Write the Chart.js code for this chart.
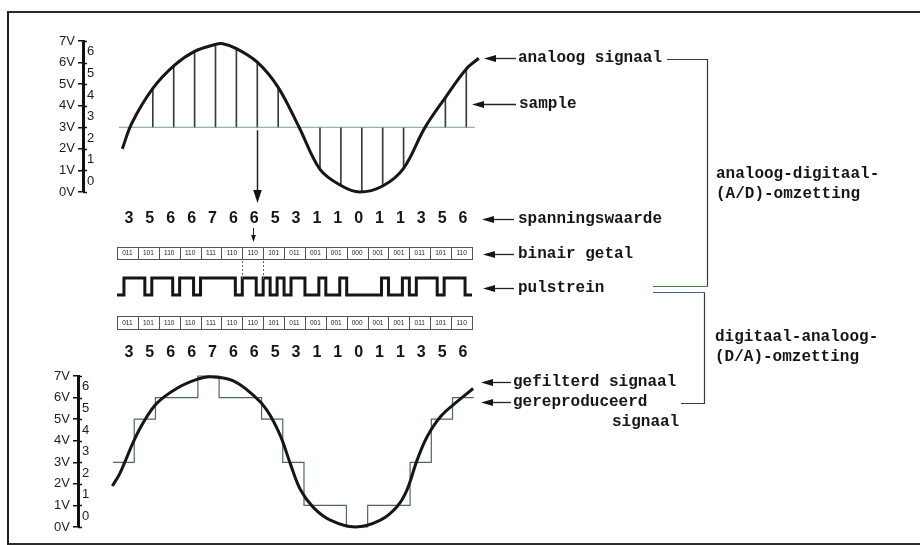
<!DOCTYPE html>
<html><head><meta charset="utf-8">
<script src="https://cdn.jsdelivr.net/npm/chart.js@4.4.1/dist/chart.umd.min.js"></script>
<style>
html,body{margin:0;padding:0;background:#fff;}
#wrap{position:relative;width:920px;height:545px;overflow:hidden;background:#fff;}
#wrap canvas{position:absolute;left:0;top:0;}
#frame{position:absolute;left:7px;top:11px;width:940px;height:530px;border-left:2px solid #1e1e1e;border-top:2px solid #2a2a2a;border-bottom:2px solid #2a2a2a;}
</style></head>
<body><div id="wrap"><div id="frame"></div>
<canvas id="cTop" width="920" height="545"></canvas>
<canvas id="cMid" width="920" height="545"></canvas>
<canvas id="cBot" width="920" height="545"></canvas>
</div>
<script>
// ---------- data ----------
const voltLabels = ['0V','1V','2V','3V','4V','5V','6V','7V'];
const levelLabels = ['0','1','2','3','4','5','6'];
const sampleValues = [3,5,6,6,7,6,6,5,3,1,1,0,1,1,3,5,6];
const binaryCodes = ['011','101','110','110','111','110','110','101','011','001','001','000','001','001','011','101','110'];
const highlightSample = 6;
const baselineLevel = 3;
const baselineSpan = [-0.62, 16.41];
// analog signal (x in sample periods, y in volts)
const analogT = [-0.46, 0, 1, 2, 3, 4, 4.3, 5, 6, 7, 8, 9, 10, 10.9, 12, 13, 14, 15, 16, 16.6];
const analogV = [2.0, 3.2, 4.8, 5.85, 6.52, 6.84, 6.88, 6.65, 6.02, 4.85, 3.0, 1.05, 0.3, 0.0, 0.28, 1.1, 2.95, 4.38, 5.7, 6.2];
// height reached by each sample line (volts)
const sampleTops = [3.0, 4.8, 5.85, 6.52, 6.84, 6.65, 6.02, 4.85, 3.0, 1.05, 0.3, 0.02, 0.28, 1.1, 2.95, 4.38, 5.7];
// filtered (reconstructed) signal, x in sample periods of the staircase
const filteredT = [-0.03, 0.33, 0.96, 1.43, 2.06, 3.0, 3.95, 4.58, 5.67, 6.61, 7.25, 7.88, 8.35, 8.82, 9.45, 10.24, 11.42, 12.6, 13.38, 13.85, 14.33, 14.8, 15.42, 16.2, 16.97];
const filteredV = [1.9, 2.5, 3.95, 4.85, 5.73, 6.42, 6.84, 6.96, 6.77, 6.11, 5.42, 4.25, 2.95, 1.75, 0.9, 0.32, 0.0, 0.32, 0.94, 1.71, 3.1, 4.18, 5.1, 5.8, 6.42];

// ---------- helpers ----------
const SANS = '"Liberation Sans", Arial, Helvetica, sans-serif';
const MONO = '"Liberation Mono", "Courier New", monospace';
const INK = '#161616';

function voltAxis() {
  return {
    type: 'linear', min: 0, max: 7, position: 'left',
    afterFit(s) { s.width = 50; },
    ticks: { stepSize: 1, autoSkip: false, padding: 3, color: '#1c1c1c',
      font: { family: SANS, size: 13 },
      callback: (v) => voltLabels[v] ?? '' },
    grid: { drawOnChartArea: false, drawTicks: true, tickLength: 5, color: '#111', lineWidth: 1.5 },
    border: { display: true, width: 3, color: '#111' }
  };
}
const axisDecor = {
  id: 'axisDecor',
  afterDraw(chart) {
    const { ctx, scales: { y } } = chart;
    const x0 = chart.chartArea.left;
    ctx.save();
    ctx.font = '13px ' + SANS;
    ctx.fillStyle = '#1c1c1c'; ctx.textAlign = 'left'; ctx.textBaseline = 'middle';
    levelLabels.forEach((lab, i) => ctx.fillText(lab, x0 + 4, y.getPixelForValue(i + 0.5)));
    ctx.strokeStyle = '#111'; ctx.lineWidth = 1.5;
    voltLabels.forEach((_, i) => {
      const py = Math.round(y.getPixelForValue(i)) + 0.5;
      ctx.beginPath(); ctx.moveTo(x0, py); ctx.lineTo(x0 + 4, py); ctx.stroke();
    });
    ctx.restore();
  }
};
function arrowLeft(ctx, tipX, tailX, y) {
  ctx.beginPath(); ctx.moveTo(tipX + 8, y); ctx.lineTo(tailX, y); ctx.stroke();
  ctx.beginPath(); ctx.moveTo(tipX, y); ctx.lineTo(tipX + 12, y - 3.4); ctx.lineTo(tipX + 12, y + 3.4); ctx.closePath(); ctx.fill();
}
function arrowDown(ctx, x, y0, tipY, head) {
  ctx.beginPath(); ctx.moveTo(x, y0); ctx.lineTo(x, tipY - head + 2); ctx.stroke();
  ctx.beginPath(); ctx.moveTo(x, tipY); ctx.lineTo(x - head * 0.33, tipY - head); ctx.lineTo(x + head * 0.33, tipY - head); ctx.closePath(); ctx.fill();
}
function common(pad, xmin, xmax) {
  return {
    responsive: false, animation: false, events: [],
    layout: { padding: pad },
    plugins: { legend: { display: false }, tooltip: { enabled: false } },
    elements: { point: { radius: 0 } },
    scales: { x: { type: 'linear', min: xmin, max: xmax, display: false, offset: false } }
  };
}

// ---------- top chart: analog signal with samples ----------
const topOpts = common({ left: 33, top: 41, right: 437, bottom: 353 }, -2.34, 16.8);
topOpts.scales.y = voltAxis();
new Chart(document.getElementById('cTop'), {
  type: 'line',
  data: { datasets: [
    { label: 'analoog signaal', data: analogT.map((t, i) => ({ x: t, y: analogV[i] })),
      borderColor: INK, borderWidth: 3, tension: 0.35, clip: false, order: 0 },
    { label: 'nivo', data: baselineSpan.map(t => ({ x: t, y: baselineLevel })),
      borderColor: '#7d9ba2', borderWidth: 1, clip: false, order: 1 },
    { type: 'bar', label: 'sample', data: sampleTops.map((v, i) => ({ x: i, y: [baselineLevel, v] })),
      backgroundColor: '#3a3a3a', barThickness: 1, order: 2 }
  ] },
  options: topOpts,
  plugins: [axisDecor, {
    id: 'downArrow',
    afterDraw(chart) {
      const { ctx, scales: { x, y } } = chart;
      ctx.save(); ctx.strokeStyle = '#222'; ctx.fillStyle = '#111'; ctx.lineWidth = 1.5;
      const px = Math.round(x.getPixelForValue(highlightSample)) + 0.5;
      arrowDown(ctx, px, y.getPixelForValue(baselineLevel) + 3, 203, 13);
      ctx.restore();
    }
  }]
});

// ---------- middle chart: numbers, binary codes, pulse train ----------
const bits = [];
binaryCodes.forEach((code, k) => code.split('').forEach((b, j) => bits.push({ x: k + j / 3, y: +b })));
bits.push({ x: binaryCodes.length, y: bits[bits.length - 1].y });
const midOpts = common({ left: 117, top: 278, right: 448, bottom: 250 }, 0, binaryCodes.length);
midOpts.scales.y = { type: 'linear', min: 0, max: 1, display: false };
new Chart(document.getElementById('cMid'), {
  type: 'line',
  data: { datasets: [
    { label: 'pulstrein', data: bits, stepped: 'before', borderColor: INK, borderWidth: 3,
      borderJoinStyle: 'miter', clip: false }
  ] },
  options: midOpts,
  plugins: [{
    id: 'codes',
    afterDraw(chart) {
      const { ctx, scales: { x } } = chart;
      ctx.save();
      // number rows
      ctx.font = 'bold 16px ' + SANS; ctx.fillStyle = INK; ctx.textAlign = 'center'; ctx.textBaseline = 'middle';
      sampleValues.forEach((v, k) => {
        const cx = x.getPixelForValue(k + 0.5) + 1.5;
        ctx.fillText(String(v), cx, 219);
        ctx.fillText(String(v), cx, 353);
      });
      // boxes with binary codes
      [[247, 259], [316, 329]].forEach(([y0, y1]) => {
        ctx.strokeStyle = '#555'; ctx.lineWidth = 1;
        const xl = x.getPixelForValue(0), xr = x.getPixelForValue(binaryCodes.length);
        ctx.strokeRect(Math.round(xl) + 0.5, y0 + 0.5, Math.round(xr - xl), y1 - y0);
        binaryCodes.forEach((c, k) => {
          if (k > 0) {
            const bx = Math.round(x.getPixelForValue(k)) + 0.5;
            ctx.beginPath(); ctx.moveTo(bx, y0); ctx.lineTo(bx, y1); ctx.stroke();
          }
          ctx.font = '6.5px ' + SANS; ctx.fillStyle = '#222';
          ctx.fillText(c, x.getPixelForValue(k + 0.5), (y0 + y1) / 2 + 0.5);
        });
      });
      // small arrow and dotted guides at highlighted sample
      ctx.strokeStyle = '#222'; ctx.fillStyle = '#111'; ctx.lineWidth = 1;
      arrowDown(ctx, Math.round(x.getPixelForValue(highlightSample + 0.5)) + 0.5, 228, 242, 7);
      ctx.setLineDash([2, 2]); ctx.strokeStyle = '#666';
      [highlightSample, highlightSample + 1].forEach(k => {
        const bx = Math.round(x.getPixelForValue(k)) + 0.5;
        ctx.beginPath(); ctx.moveTo(bx, 261); ctx.lineTo(bx, 280); ctx.stroke();
      });
      ctx.setLineDash([]);
      // annotations on the right
      ctx.font = 'bold 16px ' + MONO; ctx.textAlign = 'left'; ctx.fillStyle = INK;
      ctx.strokeStyle = '#222'; ctx.lineWidth = 1.3;
      const notes = [
        ['analoog signaal', 518, 58, 484, 516],
        ['sample', 519, 104, 472, 516],
        ['spanningswaarde', 518, 219, 482, 514],
        ['binair getal', 518, 254, 483, 514],
        ['pulstrein', 518, 288, 483, 514],
        ['gefilterd signaal', 513, 382, 481, 511],
        ['gereproduceerd', 513, 402, 481, 511],
        ['signaal', 612, 422, null, null],
        ['analoog-digitaal-', 716, 174, null, null],
        ['(A/D)-omzetting', 716, 194, null, null],
        ['digitaal-analoog-', 715, 337, null, null],
        ['(D/A)-omzetting', 715, 357, null, null]
      ];
      notes.forEach(([t, tx, ty, a0, a1]) => {
        ctx.fillText(t, tx, ty);
        if (a0 !== null) arrowLeft(ctx, a0, a1, Math.round(ty) + 0.5);
      });
      // brackets
      ctx.lineWidth = 1.2; ctx.strokeStyle = '#3a3a3a';
      ctx.beginPath(); ctx.moveTo(667, 59.5); ctx.lineTo(707.5, 59.5); ctx.lineTo(707.5, 286.5); ctx.stroke();
      ctx.strokeStyle = '#4c7d52';
      ctx.beginPath(); ctx.moveTo(707.5, 286.5); ctx.lineTo(653, 286.5); ctx.stroke();
      ctx.strokeStyle = '#3f5f8f';
      ctx.beginPath(); ctx.moveTo(653, 292.5); ctx.lineTo(704.5, 292.5); ctx.stroke();
      ctx.strokeStyle = '#3a3a3a';
      ctx.beginPath(); ctx.moveTo(704.5, 292.5); ctx.lineTo(704.5, 403.5); ctx.lineTo(681, 403.5); ctx.stroke();
      ctx.restore();
    }
  }]
});

// ---------- bottom chart: reproduced staircase and filtered signal ----------
const stairs = sampleValues.map((v, k) => ({ x: k, y: v }));
stairs.push({ x: sampleValues.length, y: sampleValues[sampleValues.length - 1] });
const botOpts = common({ left: 28, top: 376, right: 442, bottom: 18 }, -1.65, 17.2);
botOpts.scales.y = voltAxis();
new Chart(document.getElementById('cBot'), {
  type: 'line',
  data: { datasets: [
    { label: 'gefilterd signaal', data: filteredT.map((t, i) => ({ x: t, y: filteredV[i] })),
      borderColor: INK, borderWidth: 3, tension: 0.35, clip: false, order: 0 },
    { label: 'gereproduceerd signaal', data: stairs, stepped: 'before',
      borderColor: '#4d6a5d', borderWidth: 1.2, clip: false, order: 1 }
  ] },
  options: botOpts,
  plugins: [axisDecor]
});
</script>
</body></html>
